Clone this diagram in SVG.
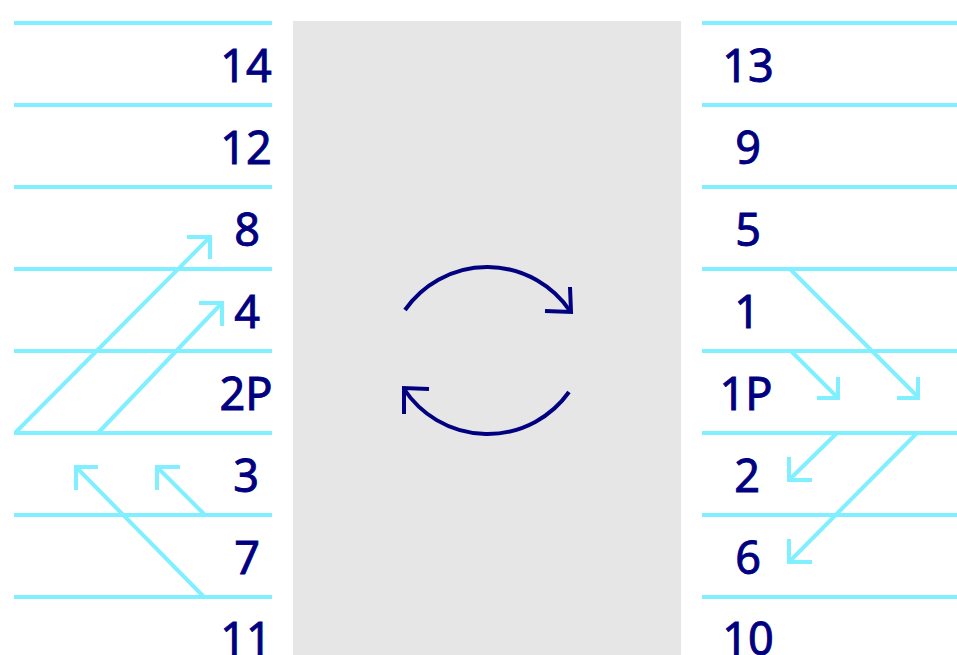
<svg xmlns="http://www.w3.org/2000/svg" width="957" height="655" viewBox="0 0 957 655">
<style>
.ln{stroke:#80EFFF;stroke-width:4;fill:none}
.ar{stroke:#80EFFF;stroke-width:4;fill:none;stroke-linecap:butt;stroke-linejoin:miter}
.cy{stroke:#000080;stroke-width:4;fill:none}
.lb{font-family:"Noto Sans","Open Sans",sans-serif;font-size:45px;fill:#000080;stroke:#000080;stroke-width:0.9;text-anchor:middle}
</style>
<rect width="957" height="655" fill="#FFFFFF"/>
<rect id="center" x="293" y="21" width="388" height="634" fill="#E6E6E6"/>
<g id="left-lines">
<line class="ln" x1="14" y1="23" x2="272" y2="23"/>
<line class="ln" x1="14" y1="105" x2="272" y2="105"/>
<line class="ln" x1="14" y1="187" x2="272" y2="187"/>
<line class="ln" x1="14" y1="269" x2="272" y2="269"/>
<line class="ln" x1="14" y1="351" x2="272" y2="351"/>
<line class="ln" x1="14" y1="433" x2="272" y2="433"/>
<line class="ln" x1="14" y1="515" x2="272" y2="515"/>
<line class="ln" x1="14" y1="597" x2="272" y2="597"/>
</g>
<g id="right-lines">
<line class="ln" x1="702" y1="23" x2="957" y2="23"/>
<line class="ln" x1="702" y1="105" x2="957" y2="105"/>
<line class="ln" x1="702" y1="187" x2="957" y2="187"/>
<line class="ln" x1="702" y1="269" x2="957" y2="269"/>
<line class="ln" x1="702" y1="351" x2="957" y2="351"/>
<line class="ln" x1="702" y1="433" x2="957" y2="433"/>
<line class="ln" x1="702" y1="515" x2="957" y2="515"/>
<line class="ln" x1="702" y1="597" x2="957" y2="597"/>
</g>
<g id="left-labels">
<g id="n14"><text class="lb" x="246" y="82">14</text></g>
<g id="n12"><text class="lb" x="246" y="164">12</text></g>
<g id="n8"><text class="lb" x="247" y="246">8</text></g>
<g id="n4"><text class="lb" x="247" y="328">4</text></g>
<g id="n2P"><text class="lb" x="246" y="410">2P</text></g>
<g id="n3"><text class="lb" x="246" y="492">3</text></g>
<g id="n7"><text class="lb" x="247" y="574">7</text></g>
<g id="n11"><text class="lb" x="246" y="655">11</text></g>
</g>
<g id="right-labels">
<g id="n13"><text class="lb" x="748" y="82">13</text></g>
<g id="n9"><text class="lb" x="748" y="164">9</text></g>
<g id="n5"><text class="lb" x="748" y="246">5</text></g>
<g id="n1"><text class="lb" x="747" y="328">1</text></g>
<g id="n1P"><text class="lb" x="746" y="410">1P</text></g>
<g id="n2"><text class="lb" x="747" y="492">2</text></g>
<g id="n6"><text class="lb" x="748" y="574">6</text></g>
<g id="n10"><text class="lb" x="748" y="655">10</text></g>
</g>
<g id="connectors">
<path class="ar" d="M15,433 L209,238 M187,237 L210,237 L210,259"/>
<path class="ar" d="M98,433 L221,304 M199,303 L222,303 L222,326"/>
<path class="ar" d="M204,597 L77,468 M98,467 L76,467 L76,490"/>
<path class="ar" d="M205,515 L158,468 M180,467 L157,467 L157,490"/>
<path class="ar" d="M790,269 L918,397 M918,377 L918,398 L897,398"/>
<path class="ar" d="M791,351 L837,397 M838,377 L838,398 L817,398"/>
<path class="ar" d="M837,433 L790,479 M789,457 L789,480 L812,480"/>
<path class="ar" d="M917,433 L790,561 M789,539 L789,562 L812,562"/>
<path class="cy" d="M405,310 A100,100 0 0 1 570,311"/>
<path class="cy" d="M570,287 L571,312 L545,311"/>
<path class="cy" d="M569,392 A100,100 0 0 1 404,389"/>
<path class="cy" d="M404,414 L404,388 L429,389"/>
</g>
</svg>
